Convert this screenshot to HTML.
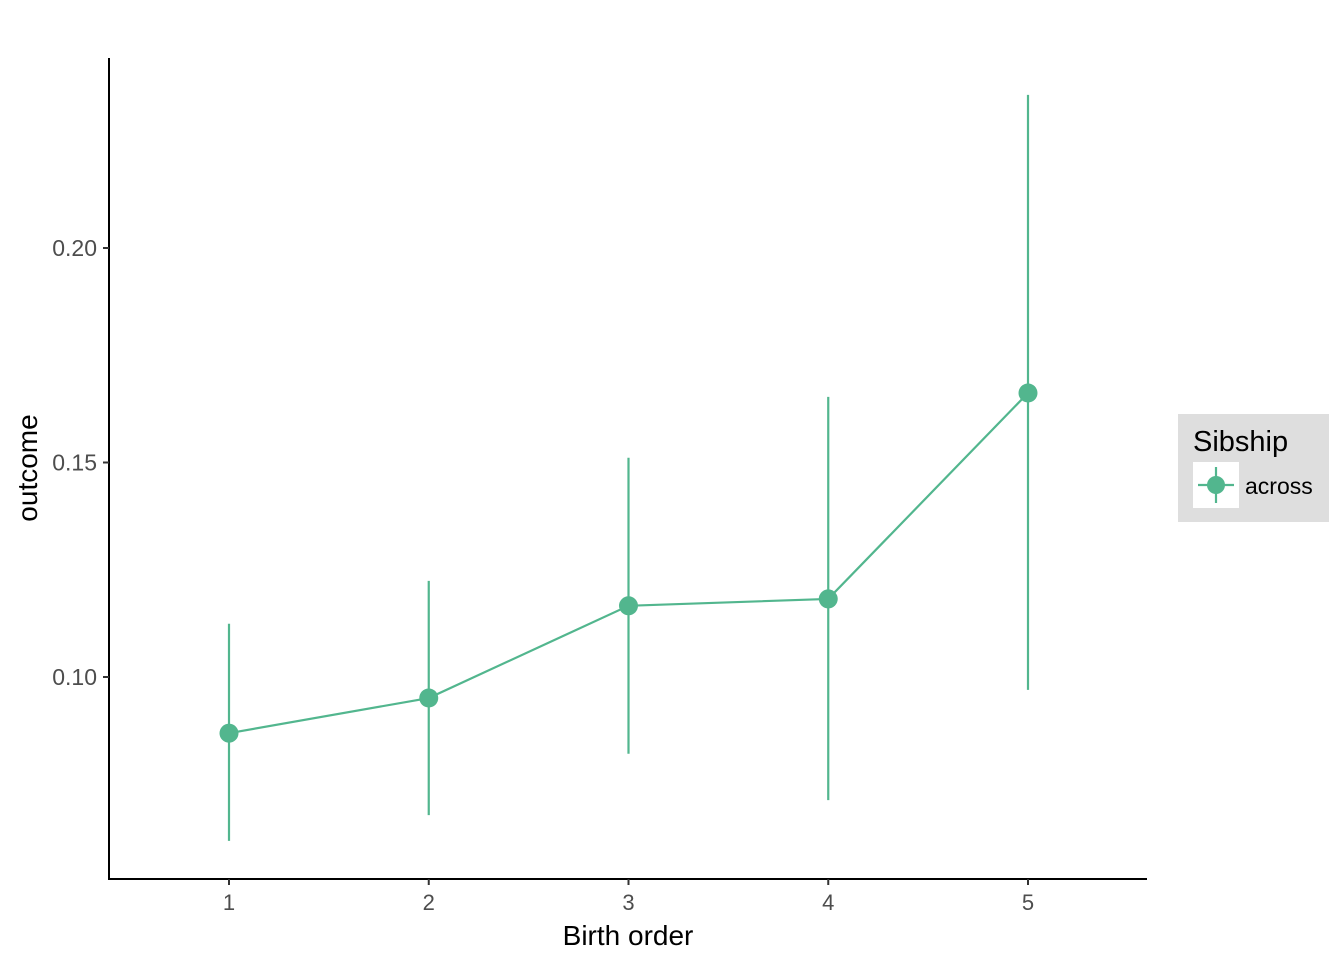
<!DOCTYPE html>
<html><head><meta charset="utf-8"><style>
body{margin:0;background:#fff;width:1344px;height:960px;overflow:hidden}
text{font-family:"Liberation Sans",Arial,sans-serif}
</style></head><body>
<svg id="chart" width="1344" height="960" xmlns="http://www.w3.org/2000/svg">
<g id="plot"></g>
<line x1="109" y1="58" x2="109" y2="880" stroke="#000" stroke-width="2"/>
<line x1="108" y1="879" x2="1147" y2="879" stroke="#000" stroke-width="2"/>
<text x="628" y="945" font-size="28" text-anchor="middle" fill="#000">Birth order</text>
<text transform="translate(37,468) rotate(-90)" font-size="28" text-anchor="middle" fill="#000">outcome</text>
<g>
<rect x="1178" y="414" width="151" height="108" fill="#dedede"/>
<text x="1193" y="451" font-size="29" fill="#000">Sibship</text>
<rect x="1193" y="462" width="46" height="46" fill="#fff"/>
<line x1="1198" y1="485" x2="1234" y2="485" stroke="#52b68e" stroke-width="2.2"/>
<line x1="1216" y1="467" x2="1216" y2="503" stroke="#52b68e" stroke-width="2.2"/>
<circle cx="1216" cy="485" r="9" fill="#52b68e"/>
<text x="1245" y="494" font-size="23" fill="#000">across</text>
</g>
</svg>
<script>
const categories=[1,2,3,4,5];
const means=[0.0869,0.0951,0.1166,0.1182,0.1662];
const lowers=[0.0618,0.0678,0.0821,0.0713,0.0970];
const uppers=[0.1124,0.1224,0.1511,0.1653,0.2357];
const yTicks=[0.10,0.15,0.20];
const yTickLabels=["0.10","0.15","0.20"];
const xTickLabels=["1","2","3","4","5"];
const NS="http://www.w3.org/2000/svg";
const col="#52b68e";
function xs(c){return 229+(c-1)*199.75;}
function ys(v){return 677-(v-0.10)/0.05*214.5;}
const svg=document.getElementById('chart');
const g=document.getElementById('plot');
function mk(t,a,p){const e=document.createElementNS(NS,t);for(const k in a)e.setAttribute(k,a[k]);(p||g).appendChild(e);return e;}
yTicks.forEach((v,i)=>{
  const t=mk('line',{x1:103,x2:109,y1:ys(v),y2:ys(v),stroke:'#333','stroke-width':2},svg);
  
  
  const l=mk('text',{x:97,y:ys(v)+8,'font-size':23,'text-anchor':'end',fill:'#4d4d4d'},svg);
  l.textContent=yTickLabels[i];
  
  
});
categories.forEach((c,i)=>{
  const t=mk('line',{x1:xs(c),x2:xs(c),y1:879,y2:885,stroke:'#333','stroke-width':2},svg);
  
  
  const l=mk('text',{x:xs(c),y:910,'font-size':22,'text-anchor':'middle',fill:'#4d4d4d'},svg);
  l.textContent=xTickLabels[i];
  
  
});
categories.forEach((c,i)=>{
  const e=mk('line',{x1:xs(c),x2:xs(c),y1:ys(lowers[i]),y2:ys(uppers[i]),stroke:col,'stroke-width':2.2});
  
  
});
const pl=mk('polyline',{points:categories.map((c,i)=>xs(c)+','+ys(means[i])).join(' '),fill:'none',stroke:col,'stroke-width':2.2});


categories.forEach((c,i)=>{
  const p=mk('circle',{cx:xs(c),cy:ys(means[i]),r:9.5,fill:col});
  
  
});
</script>
</body></html>
